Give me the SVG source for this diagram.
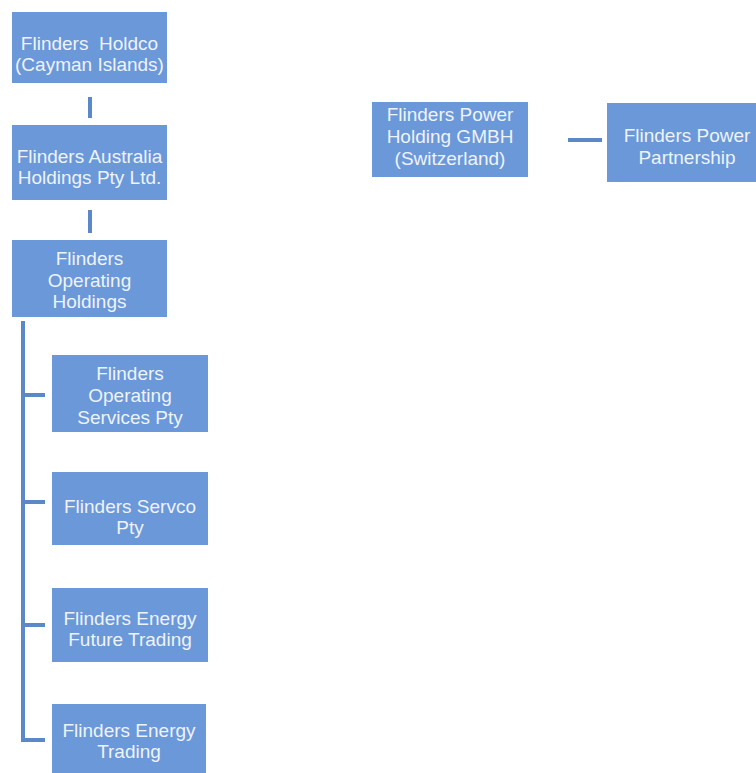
<svg xmlns="http://www.w3.org/2000/svg" width="756" height="773" viewBox="0 0 756 773">
<style>
.box{fill:#6a98d8}
.t{font-family:"Liberation Sans",Arial,sans-serif;font-size:19px;fill:#eef3fb;text-anchor:middle;white-space:pre}
.c{stroke:#5a88c8;stroke-width:4;fill:none}
</style>
<rect width="756" height="773" fill="#ffffff"/>
<g id="connectors">
<line class="c" x1="90" y1="97" x2="90" y2="118"/>
<line class="c" x1="90" y1="210" x2="90" y2="233"/>
<path class="c" d="M23 321 V740 H45"/>
<line class="c" x1="23" y1="395" x2="45" y2="395"/>
<line class="c" x1="23" y1="502" x2="45" y2="502"/>
<line class="c" x1="23" y1="625" x2="45" y2="625"/>
<line class="c" x1="568" y1="140" x2="602" y2="140"/>
</g>
<g id="holdco">
<rect class="box" x="12" y="12" width="155" height="71"/>
<text class="t" x="89.5" y="50" xml:space="preserve">Flinders  Holdco</text>
<text class="t" x="89.5" y="71">(Cayman Islands)</text>
</g>
<g id="australia">
<rect class="box" x="12" y="125" width="155" height="75"/>
<text class="t" x="89.5" y="163">Flinders Australia</text>
<text class="t" x="89.5" y="184">Holdings Pty Ltd.</text>
</g>
<g id="operating-holdings">
<rect class="box" x="12" y="240" width="155" height="77"/>
<text class="t" x="89.5" y="265">Flinders</text>
<text class="t" x="89.5" y="287">Operating</text>
<text class="t" x="89.5" y="308">Holdings</text>
</g>
<g id="operating-services">
<rect class="box" x="52" y="355" width="156" height="77"/>
<text class="t" x="130" y="380">Flinders</text>
<text class="t" x="130" y="402">Operating</text>
<text class="t" x="130" y="424">Services Pty</text>
</g>
<g id="servco">
<rect class="box" x="52" y="472" width="156" height="73"/>
<text class="t" x="130" y="513">Flinders Servco</text>
<text class="t" x="130" y="534">Pty</text>
</g>
<g id="energy-future">
<rect class="box" x="52" y="588" width="156" height="74"/>
<text class="t" x="130" y="625">Flinders Energy</text>
<text class="t" x="130" y="646">Future Trading</text>
</g>
<g id="energy-trading">
<rect class="box" x="52" y="704" width="154" height="69"/>
<text class="t" x="129" y="737">Flinders Energy</text>
<text class="t" x="129" y="758">Trading</text>
</g>
<g id="power-holding">
<rect class="box" x="372" y="102" width="156" height="75"/>
<text class="t" x="450" y="121">Flinders Power</text>
<text class="t" x="450" y="143">Holding GMBH</text>
<text class="t" x="450" y="165">(Switzerland)</text>
</g>
<g id="power-partnership">
<rect class="box" x="607" y="103" width="160" height="79"/>
<text class="t" x="687" y="142">Flinders Power</text>
<text class="t" x="687" y="164">Partnership</text>
</g>
</svg>
